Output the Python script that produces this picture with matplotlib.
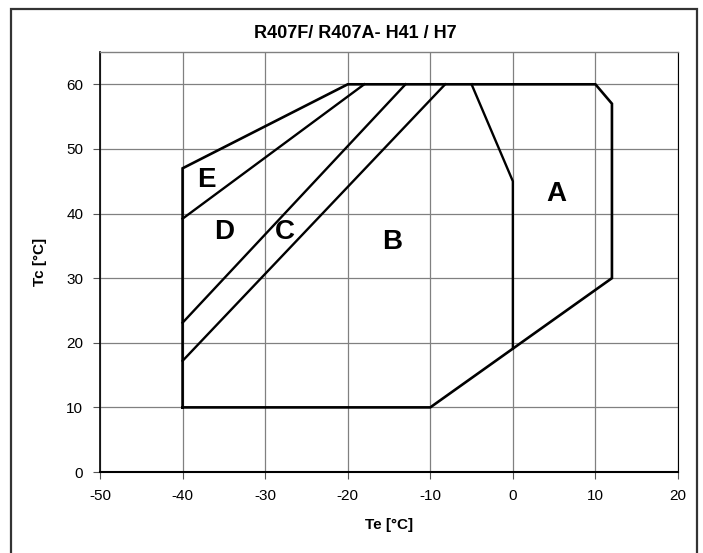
import matplotlib.pyplot as plt
from matplotlib.patches import Rectangle

# =========================
# 数据
# =========================
# 外包络线
env_te = [-40, -10, 12, 12, 10, -20, -40, -40]
env_tc = [10, 10, 30, 57, 60, 60, 47, 10]

# A / B 分界
ab_te = [-5, 0, 0]
ab_tc = [60, 45, 19.1]

# B / C 分界
bc_te = [-40, -8.2]
bc_tc = [17.2, 60]

# C / D 分界
cd_te = [-40, -13]
cd_tc = [23.1, 60]

# D / E 分界
de_te = [-40, -18]
de_tc = [39.2, 60]

zone_names = ["A", "B", "C", "D", "E"]
zone_te = [5.3, -14.6, -27.6, -35.0, -37.1]
zone_tc = [43.1, 35.6, 37.2, 37.2, 45.2]

x_ticks = [-50, -40, -30, -20, -10, 0, 10, 20]
y_ticks = [0, 10, 20, 30, 40, 50, 60]

title = "R407F/ R407A- H41 / H7"

plt.rcParams['font.family'] = ['Liberation Sans', 'DejaVu Sans']
plt.rcParams['axes.unicode_minus'] = False

fig = plt.figure(figsize=(7.03, 5.53), dpi=100)
ax = fig.add_axes([100 / 703, 81 / 553, 578 / 703, 420 / 553])

# 图框
fig.patches.append(Rectangle((11 / 703, -0.1), 686 / 703, 1.1 - 9 / 553,
                             transform=fig.transFigure, fill=False,
                             edgecolor='#333333', linewidth=1.6))

ax.plot(env_te, env_tc, color='black', linewidth=1.9, solid_joinstyle='miter')
for te, tc in [(ab_te, ab_tc), (bc_te, bc_tc), (cd_te, cd_tc), (de_te, de_tc)]:
    ax.plot(te, tc, color='black', linewidth=1.7)

for name, te, tc in zip(zone_names, zone_te, zone_tc):
    ax.text(te, tc, name, ha='center', va='center', fontsize=20,
            fontweight='bold')

ax.set_xlim(-50, 20)
ax.set_ylim(0, 65)
ax.set_xticks(x_ticks)
ax.set_yticks(y_ticks)
ax.tick_params(direction='out', length=5, width=0.8, colors='#555555',
               labelcolor='black', labelsize=11, pad=7)
ax.grid(True, color='#808080', linewidth=0.9)
ax.set_axisbelow(True)

ax.spines['left'].set_color('black')
ax.spines['left'].set_linewidth(1.2)
ax.spines['bottom'].set_color('black')
ax.spines['bottom'].set_linewidth(1.5)
ax.spines['top'].set_color('#808080')
ax.spines['top'].set_linewidth(1.0)
ax.spines['right'].set_color('black')
ax.spines['right'].set_linewidth(0.8)

ax.set_xlabel('Te [°C]', fontsize=11, fontweight='bold', labelpad=11)
ax.set_ylabel('Tc [°C]', fontsize=11, fontweight='bold', labelpad=14)
fig.text(355 / 703, 1 - 33 / 553, title, ha='center', va='center',
         fontsize=13, fontweight='bold')

fig.savefig('out.png', dpi=100)
